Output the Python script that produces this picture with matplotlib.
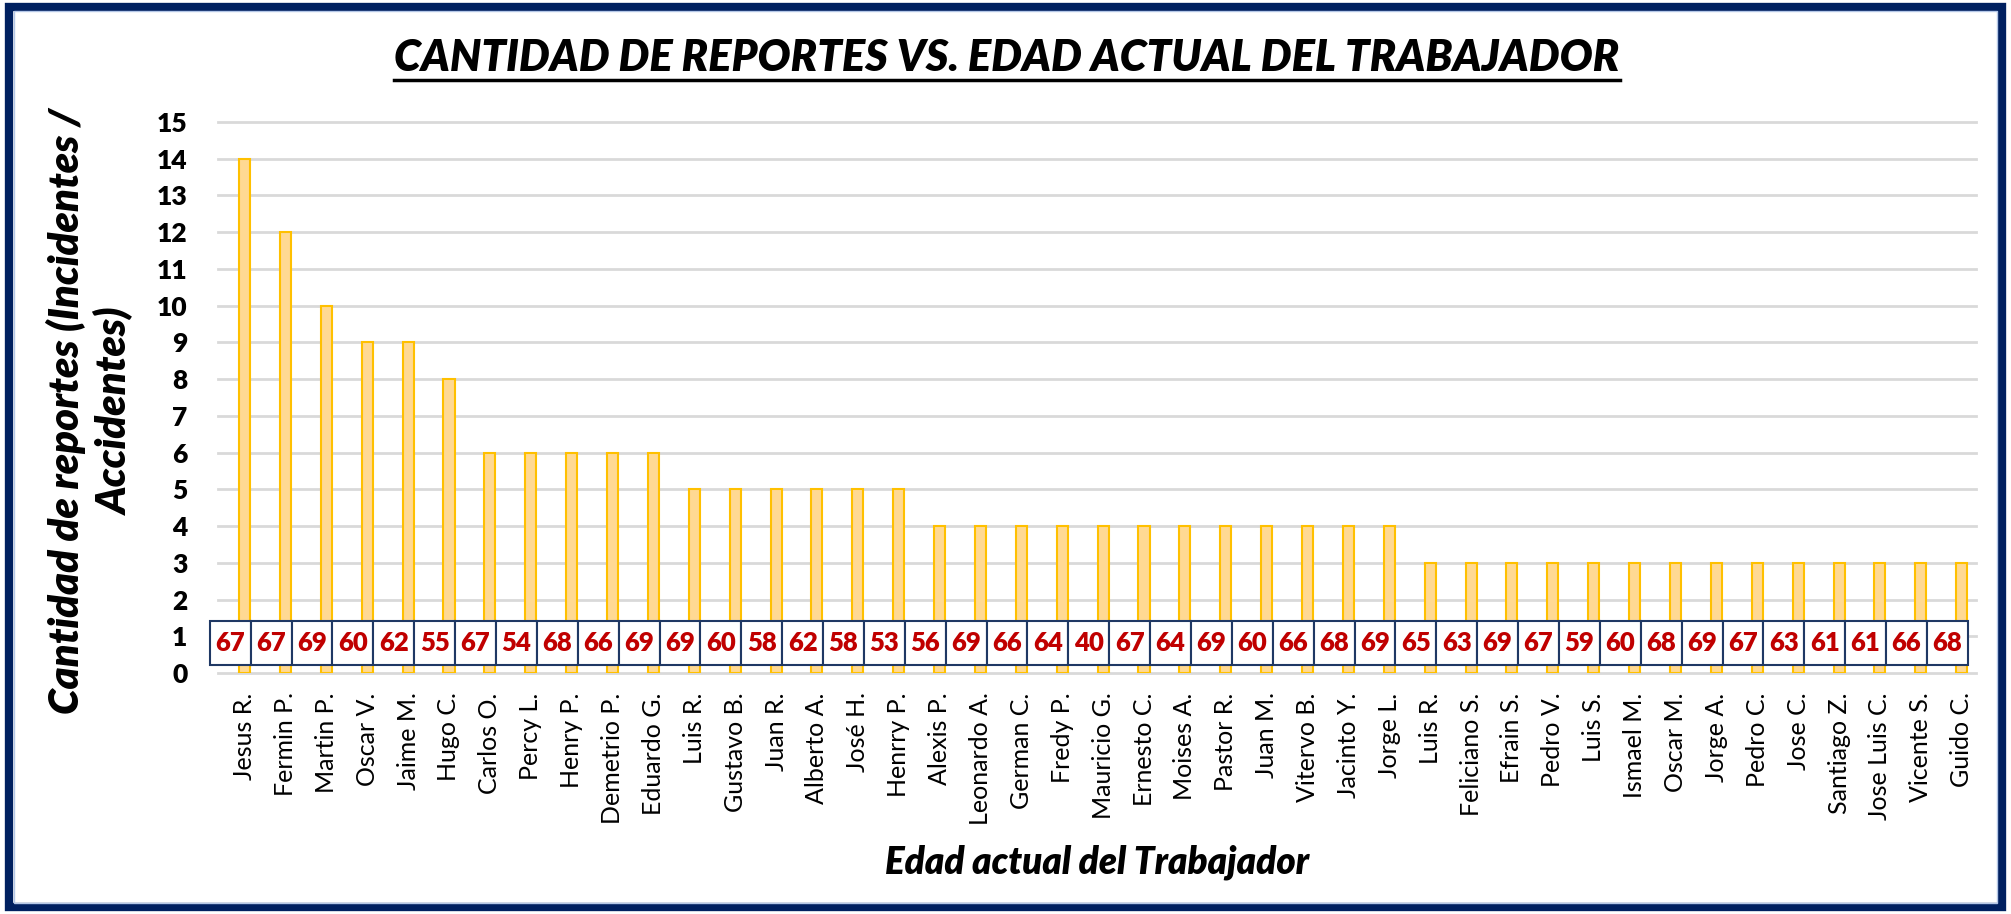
import numpy as np
import matplotlib
matplotlib.use('Agg')
import matplotlib.pyplot as plt
from matplotlib.patches import Rectangle
from matplotlib.lines import Line2D

trabajadores = ['Jesus R.', 'Fermin P.', 'Martin P.', 'Oscar V.', 'Jaime M.', 'Hugo C.',
                'Carlos O.', 'Percy L.', 'Henry P.', 'Demetrio P.', 'Eduardo G.', 'Luis R.',
                'Gustavo B.', 'Juan R.', 'Alberto A.', 'José H.', 'Henrry P.', 'Alexis P.',
                'Leonardo A.', 'German C.', 'Fredy P.', 'Mauricio G.', 'Ernesto C.',
                'Moises A.', 'Pastor R.', 'Juan M.', 'Vitervo B.', 'Jacinto Y.', 'Jorge L.',
                'Luis R.', 'Feliciano S.', 'Efrain S.', 'Pedro V.', 'Luis S.', 'Ismael M.',
                'Oscar M.', 'Jorge A.', 'Pedro C.', 'Jose C.', 'Santiago Z.', 'Jose Luis C.',
                'Vicente S.', 'Guido C.']
reportes = [14, 12, 10, 9, 9, 8, 6, 6, 6, 6, 6, 5, 5, 5, 5, 5, 5,
            4, 4, 4, 4, 4, 4, 4, 4, 4, 4, 4, 4,
            3, 3, 3, 3, 3, 3, 3, 3, 3, 3, 3, 3, 3, 3]
edades = [67, 67, 69, 60, 62, 55, 67, 54, 68, 66, 69, 69, 60, 58, 62, 58, 53, 56, 69, 66,
          64, 40, 67, 64, 69, 60, 66, 68, 69, 65, 63, 69, 67, 59, 60, 68, 69, 67, 63, 61,
          61, 66, 68]

plt.rcParams['font.family'] = ['Lato', 'DejaVu Sans']

W, H = 2011, 914
fig = plt.figure(figsize=(W / 100, H / 100), dpi=100)
ax = fig.add_axes([218 / W, 1 - 673 / H, (1976 - 218) / W, (673 - 122) / H])

x = np.arange(len(trabajadores))
ax.bar(x, reportes, width=0.27, color='#FFD993', edgecolor='#FFC000', linewidth=1.5, zorder=2)
ax.set_xlim(-0.65, len(x) - 0.65)
ax.set_ylim(0, 15)
ax.set_yticks(range(16))
ax.grid(axis='y', color='#D9D9D9', linewidth=2)
ax.set_axisbelow(True)
for ln in ax.get_ygridlines():
    ln.set_clip_on(False)
for s in ax.spines.values():
    s.set_visible(False)
ax.tick_params(axis='both', length=0)
ax.tick_params(axis='y', pad=22, labelsize=19)
for t in ax.get_yticklabels():
    t.set_fontweight('heavy')
ax.set_xticks(x)
ax.set_xticklabels(trabajadores, rotation=90, fontsize=18)
ax.tick_params(axis='x', pad=14)

# tabla de edades
for i, e in enumerate(edades):
    ax.add_patch(Rectangle((i - 0.85, 0.22), 1.0, 1.2, facecolor='white',
                           edgecolor='#1F3864', linewidth=1.5, zorder=3, clip_on=False))
    ax.text(i - 0.35, 0.82, str(e), ha='center', va='center', color='#C00000',
            fontsize=18.5, fontweight='heavy', zorder=4, clip_on=False)

title = fig.text(1007 / W, 1 - 58 / H, 'CANTIDAD DE REPORTES VS. EDAD ACTUAL DEL TRABAJADOR',
                 ha='center', va='center', fontsize=31.3, fontweight='heavy', style='italic')
fig.canvas.draw()
bb = title.get_window_extent().transformed(fig.transFigure.inverted())
fig.add_artist(Line2D([bb.x0, bb.x1], [1 - 80 / H] * 2, color='black', linewidth=2.5))

fig.text(0.045, 0.55, 'Cantidad de reportes (Incidentes /\nAccidentes)', rotation=90,
         ha='center', va='center', fontsize=30, fontweight='heavy', style='italic',
         linespacing=1.25)
fig.text(1097 / W, 1 - 862 / H, 'Edad actual del Trabajador', ha='center', va='center',
         fontsize=26.5, fontweight='heavy', style='italic')

# marco
fig.add_artist(Rectangle((9 / W, 7 / H), 1 - 18 / W, 1 - 14 / H, transform=fig.transFigure,
                         fill=False, edgecolor='#002060', linewidth=6))
fig.add_artist(Rectangle((14 / W, 11 / H), 1 - 28 / W, 1 - 22 / H, transform=fig.transFigure,
                         fill=False, edgecolor='#B4C7E7', linewidth=1))

fig.savefig('out.png', dpi=100, facecolor='white')
